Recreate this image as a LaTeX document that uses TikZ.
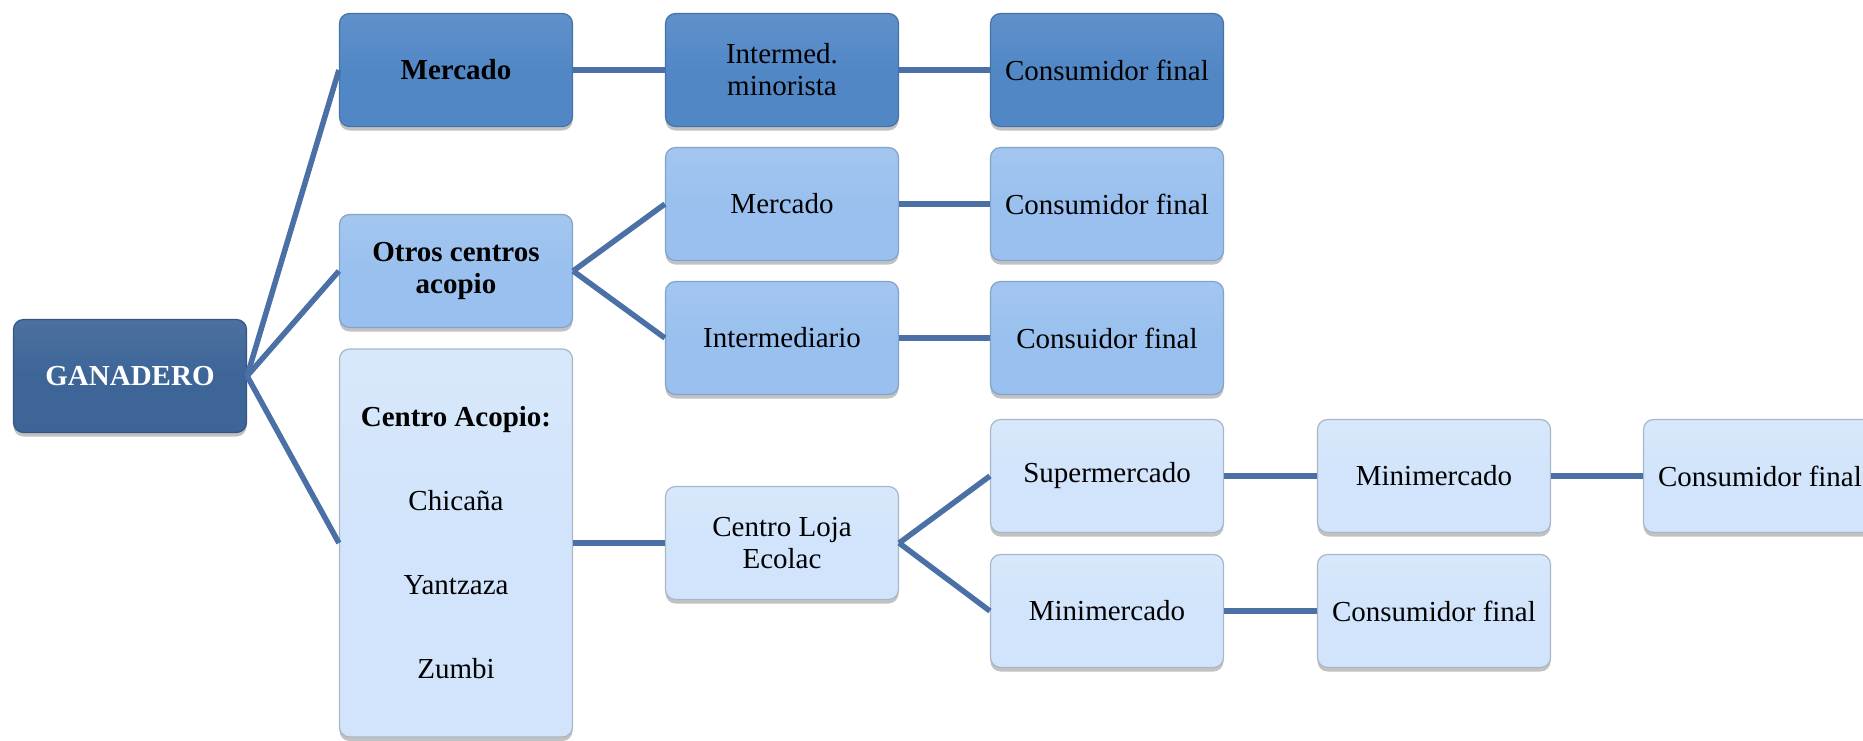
\documentclass[tikz,border=0pt]{standalone}
\usepackage{fontspec}
\setmainfont{Liberation Serif}
\usetikzlibrary{shadows}
\definecolor{cDark}{HTML}{3D6598}
\definecolor{cMid}{HTML}{5287C6}
\definecolor{cLight}{HTML}{99C0EE}
\definecolor{cPale}{HTML}{D1E4FB}
\definecolor{cLine}{HTML}{4A70A6}
\tikzset{
  box/.style={rounded corners=10pt, minimum width=233pt, minimum height=113pt,
    inner sep=0pt, align=center, font=\fontsize{29}{32}\selectfont, line width=1.2pt,
    drop shadow={shadow xshift=0pt, shadow yshift=-4pt, opacity=0.4, fill=black!60}},
  darkbox/.style={box, top color=cDark!92!white, bottom color=cDark, middle color=cDark, draw=cDark!85!black, text=white, font=\fontsize{29}{32}\selectfont\bfseries},
  midbox/.style={box, top color=cMid!92!white, bottom color=cMid, middle color=cMid, draw=cMid!85!black},
  lightbox/.style={box, top color=cLight!90!white, bottom color=cLight, middle color=cLight, draw=cLight!85!black},
  palebox/.style={box, top color=cPale!85!white, bottom color=cPale, middle color=cPale, draw=cPale!80!black},
  link/.style={draw=cLine, line width=5.5pt}
}
\begin{document}
\begin{tikzpicture}[x=1pt,y=-1pt]
\useasboundingbox (0,0) rectangle (1863,740);
% column 0
\node[darkbox] (gan) at (130,376) {GANADERO};
% column 1
\node[midbox, font=\fontsize{29}{32}\selectfont\bfseries] (merc1) at (456,70) {Mercado};
\node[lightbox, font=\fontsize{29}{32}\selectfont\bfseries] (otros) at (456,271) {Otros centros\\acopio};
\node[palebox, minimum height=388pt] (acop) at (456,543) {\textbf{Centro Acopio:}\\[52pt]Chicaña\\[52pt]Yantzaza\\[52pt]Zumbi};
% column 2
\node[midbox] (inter) at (782,70) {Intermed.\\minorista};
\node[lightbox] (merc2) at (782,204) {Mercado};
\node[lightbox] (intd) at (782,338) {Intermediario};
\node[palebox] (loja) at (782,543) {Centro Loja\\Ecolac};
% column 3
\node[midbox] (cf1) at (1107,70) {Consumidor final};
\node[lightbox] (cf2) at (1107,204) {Consumidor final};
\node[lightbox] (cf3) at (1107,338) {Consuidor final};
\node[palebox] (super) at (1107,476) {Supermercado};
\node[palebox] (mini1) at (1107,611) {Minimercado};
% column 4
\node[palebox] (mini2) at (1434,476) {Minimercado};
\node[palebox] (cf4) at (1434,611) {Consumidor final};
% column 5
\node[palebox] (cf5) at (1760,476) {Consumidor final};
% connectors
\draw[link] (gan.east) -- (merc1.west);
\draw[link] (gan.east) -- (otros.west);
\draw[link] (gan.east) -- (acop.west);
\draw[link] (merc1.east) -- (inter.west);
\draw[link] (inter.east) -- (cf1.west);
\draw[link] (otros.east) -- (merc2.west);
\draw[link] (otros.east) -- (intd.west);
\draw[link] (merc2.east) -- (cf2.west);
\draw[link] (intd.east) -- (cf3.west);
\draw[link] (acop.east) -- (loja.west);
\draw[link] (loja.east) -- (super.west);
\draw[link] (loja.east) -- (mini1.west);
\draw[link] (super.east) -- (mini2.west);
\draw[link] (mini2.east) -- (cf5.west);
\draw[link] (mini1.east) -- (cf4.west);
\end{tikzpicture}
\end{document}
